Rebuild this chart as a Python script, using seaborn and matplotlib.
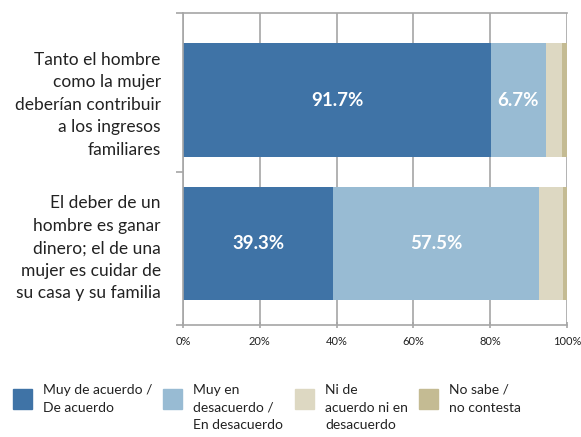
import numpy as np
import pandas as pd
import seaborn as sns
import matplotlib.pyplot as plt
from matplotlib.patches import Rectangle

# datos
categorias = ['Tanto el hombre\ncomo la mujer\ndeberían contribuir\na los ingresos\nfamiliares',
              'El deber de un\nhombre es ganar\ndinero; el de una\nmujer es cuidar de\nsu casa y su familia']
series = ['Muy de acuerdo /\nDe acuerdo', 'Muy en\ndesacuerdo /\nEn desacuerdo',
          'Ni de\nacuerdo ni en\ndesacuerdo', 'No sabe /\nno contesta']
valores = [[80.2, 14.3, 4.2, 1.3],
           [39.1, 53.6, 6.2, 1.1]]
etiquetas = [['91.7%', '6.7%', '', ''],
             ['39.3%', '57.5%', '', '']]
colores = ['#3F73A6', '#98BBD3', '#DDD8C2', '#C4BB93']

sns.set_theme(style='white')
plt.rcParams['font.family'] = ['Lato', 'DejaVu Sans']

fig = plt.figure(figsize=(5.81, 4.37), dpi=100)
ax = fig.add_axes([0.315, 0.256, 0.661, 0.714])

acum = np.cumsum(np.array(valores), axis=1)
# dibujar de atrás hacia adelante (acumulados)
for i in range(len(series) - 1, -1, -1):
    df = pd.DataFrame({'cat': [0, 1], 'val': acum[:, i]})
    sns.barplot(data=df, x='val', y='cat', orient='h', color=colores[i],
                saturation=1, width=0.79, linewidth=0, ax=ax, zorder=2)

for r in range(len(categorias)):
    inicio = 0
    for i in range(len(series)):
        if etiquetas[r][i]:
            ax.text(inicio + valores[r][i] / 2, r, etiquetas[r][i], ha='center', va='center',
                    color='white', fontsize=13.5, fontweight='bold', zorder=3)
        inicio += valores[r][i]

ax.set_xlim(0, 100)
ax.set_ylim(1.568, -0.606)
ax.set_xticks(np.arange(0, 101, 20))
ax.set_xticklabels([f'{t}%' for t in range(0, 101, 20)], fontsize=8, color='#222222')
ax.set_yticks([0, 1])
ax.set_yticklabels(categorias, fontsize=12.5, color='#222222', linespacing=1.5)
ax.set_yticks([-0.606, 0.5, 1.568], minor=True)
ax.tick_params(axis='y', which='major', length=0, pad=16)
ax.tick_params(axis='y', which='minor', length=5, color='#A6A6A6', width=1.2, left=True)
ax.tick_params(axis='x', length=5, color='#A6A6A6', width=1.2, bottom=True, direction='inout', pad=5)
ax.set_xlabel('')
ax.set_ylabel('')
ax.grid(axis='x', color='#A6A6A6', linewidth=1.2, zorder=0)
ax.set_axisbelow(True)
for s in ['left', 'bottom', 'top']:
    ax.spines[s].set_color('#A6A6A6')
    ax.spines[s].set_linewidth(1.2)
ax.spines['right'].set_visible(False)

# leyenda
xs_cuadro = [13, 163, 295, 419]
for i, nombre in enumerate(series):
    fig.add_artist(Rectangle((xs_cuadro[i] / 581, 1 - 409 / 437), 19 / 581, 20 / 437,
                             transform=fig.transFigure, color=colores[i]))
    fig.text((xs_cuadro[i] + 30) / 581, 1 - 384 / 437, nombre, ha='left', va='top',
             fontsize=10, color='#222222', linespacing=1.55)

fig.savefig('out.png', dpi=100)
